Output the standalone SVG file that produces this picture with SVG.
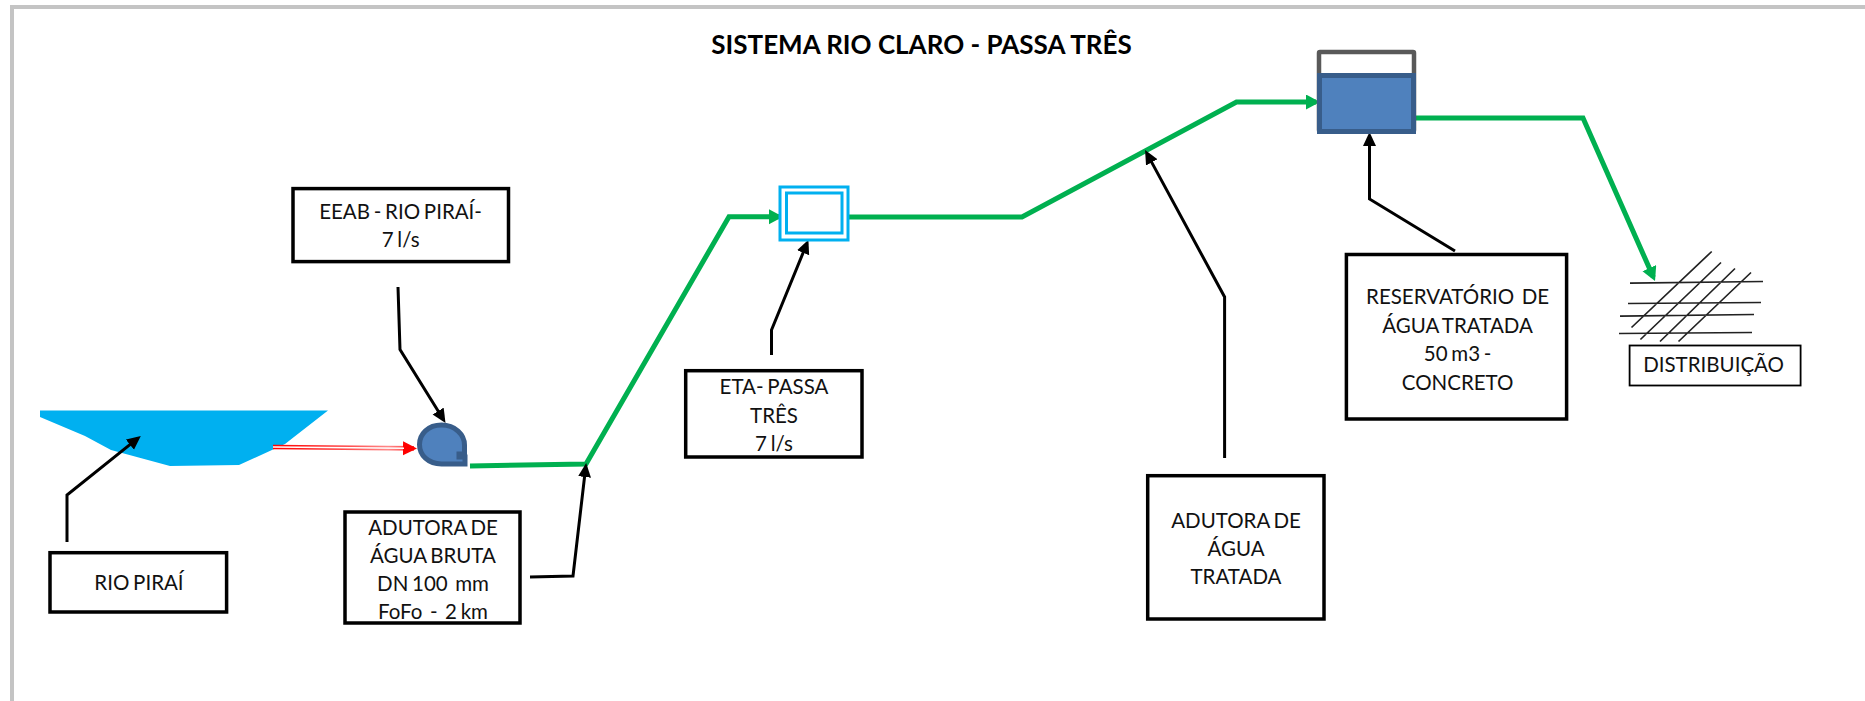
<svg xmlns="http://www.w3.org/2000/svg" width="1865" height="701" viewBox="0 0 1865 701">
<style>
text{font-family:"Lato","Liberation Sans",sans-serif;font-size:20.5px;fill:#111;text-anchor:middle;white-space:pre;word-spacing:-1.5px}
.title{font-size:26px;font-weight:700;fill:#000;word-spacing:0}
.box{fill:#fff;stroke:#000;stroke-width:3.5}
.thin{stroke-width:1.8}
.call{fill:none;stroke:#000;stroke-width:3;marker-end:url(#ah)}
.pipe{fill:none;stroke:#00B050;stroke-width:5;stroke-linejoin:miter;marker-end:url(#gh)}
.net{stroke:#222;stroke-width:1.7;fill:none}
.blue{fill:#4F81BD;stroke:#385D8A;stroke-width:5}
.eta{fill:#fff;stroke:#00B0F0;stroke-width:3}
</style>
<defs>
<marker id="ah" markerUnits="userSpaceOnUse" markerWidth="16" markerHeight="14" refX="10" refY="6.5" orient="auto"><path d="M0 0L14 6.5L0 13Z" fill="#000"/></marker>
<marker id="gh" markerUnits="userSpaceOnUse" markerWidth="16" markerHeight="16" refX="10" refY="7.5" orient="auto"><path d="M0 0L14 7.5L0 15Z" fill="#00B050"/></marker>
<marker id="rh" markerUnits="userSpaceOnUse" markerWidth="16" markerHeight="16" refX="11" refY="7" orient="auto"><path d="M0 0L14 7L0 14Z" fill="#f00"/></marker>
<linearGradient id="rg" gradientUnits="userSpaceOnUse" x1="273" y1="447" x2="417" y2="448"><stop offset="0" stop-color="#f00"/><stop offset=".55" stop-color="#f55"/><stop offset=".8" stop-color="#f88"/><stop offset="1" stop-color="#f33"/></linearGradient>
</defs>
<rect width="1865" height="701" fill="#fff"/>
<path id="frame" d="M12 701V7H1865" fill="none" stroke="#c4c4c4" stroke-width="4"/>
<g id="title"><text class="title" x="921.5" y="54">SISTEMA RIO CLARO - PASSA TRÊS</text></g>
<g id="rio"><path d="M40 410.5H328L285 444L239 465L170 466L111 450L85 436L40 417Z" fill="#00B0F0"/></g>
<g id="grid">
<path class="net" transform="translate(0 -3.5)" d="M1630 286.6L1763 285M1628 307L1761 306M1620 319.6L1754 318M1619 337L1752 336M1631.5 331L1711.7 255M1640.4 343L1721 266M1660 345L1735 272M1678.5 345L1751 276"/>
</g>
<g id="connectors">
<path d="M273 447L414 448.4" fill="none" stroke="url(#rg)" stroke-width="4.6" marker-end="url(#rh)"/>
<path d="M273 447L404 448.2" fill="none" stroke="#fff" stroke-width="1.4"/>
<path class="pipe" d="M470 466L586 464L729 216.7H779"/>
<path class="pipe" d="M846 217H1022L1236.5 102H1316"/>
<path class="pipe" d="M1409 118H1583L1653.4 277.3"/>
<path class="call" d="M67 542V495L137.7 438.4"/>
<path class="call" d="M398 287L400 349.5L443.4 419.5"/>
<path class="call" d="M530 577L573 576L585.7 467"/>
<path class="call" d="M771.5 355V330L806.9 243.5"/>
<path class="call" d="M1224.6 458V297L1147 153.6"/>
<path class="call" d="M1455 251L1369.5 199V136"/>
</g>
<g id="bomba"><path class="blue" d="M441.5 425C455 425 464.5 434.500 464.500 445V454H459V457H465V464H441.500C428 464 419.500 455 419.500 444.500C419.500 434 428 425 441.500 425Z"/></g>
<g id="eta-simbolo"><rect class="eta" x="780" y="187" width="68" height="53"/><rect class="eta" x="786.5" y="193" width="55.5" height="40"/></g>
<g id="reservatorio"><rect x="1319" y="52" width="95" height="79" fill="#fff" stroke="#595959" stroke-width="4.5" rx="1"/><rect class="blue" x="1319.5" y="75.5" width="94" height="56"/></g>
<g id="n-eeab"><rect class="box" x="293" y="188.6" width="215.5" height="73"/><text x="400.6" y="219">EEAB - RIO PIRAÍ-</text><text x="400.6" y="247">7 l/s</text></g>
<g id="n-rio"><rect class="box" x="50" y="552.7" width="176.6" height="59.3"/><text x="139" y="590">RIO PIRAÍ</text></g>
<g id="n-aab"><rect class="box" x="345" y="512" width="175" height="111"/><text x="433" y="535">ADUTORA DE</text><text x="433" y="563">ÁGUA BRUTA</text><text x="433" y="591">DN 100  mm</text><text x="433" y="619">FoFo  -  2 km</text></g>
<g id="n-eta"><rect class="box" x="685.7" y="370.7" width="176.3" height="86.3"/><text x="774" y="394">ETA- PASSA</text><text x="774" y="422.7">TRÊS</text><text x="774" y="450.7">7 l/s</text></g>
<g id="n-aat"><rect class="box" x="1147.7" y="475.7" width="176.3" height="143.3"/><text x="1236" y="528">ADUTORA DE</text><text x="1236" y="556">ÁGUA</text><text x="1236" y="584">TRATADA</text></g>
<g id="n-res"><rect class="box" x="1346.4" y="254.5" width="220.2" height="164.5"/><text x="1457.6" y="303.5">RESERVATÓRIO  DE</text><text x="1457.6" y="332.5">ÁGUA TRATADA</text><text x="1457.6" y="360.5">50 m3 -</text><text x="1457.6" y="389.5">CONCRETO</text></g>
<g id="n-dist"><rect class="box thin" x="1629.6" y="345.5" width="171" height="40"/><text x="1713.6" y="372">DISTRIBUIÇÃO</text></g>
</svg>
